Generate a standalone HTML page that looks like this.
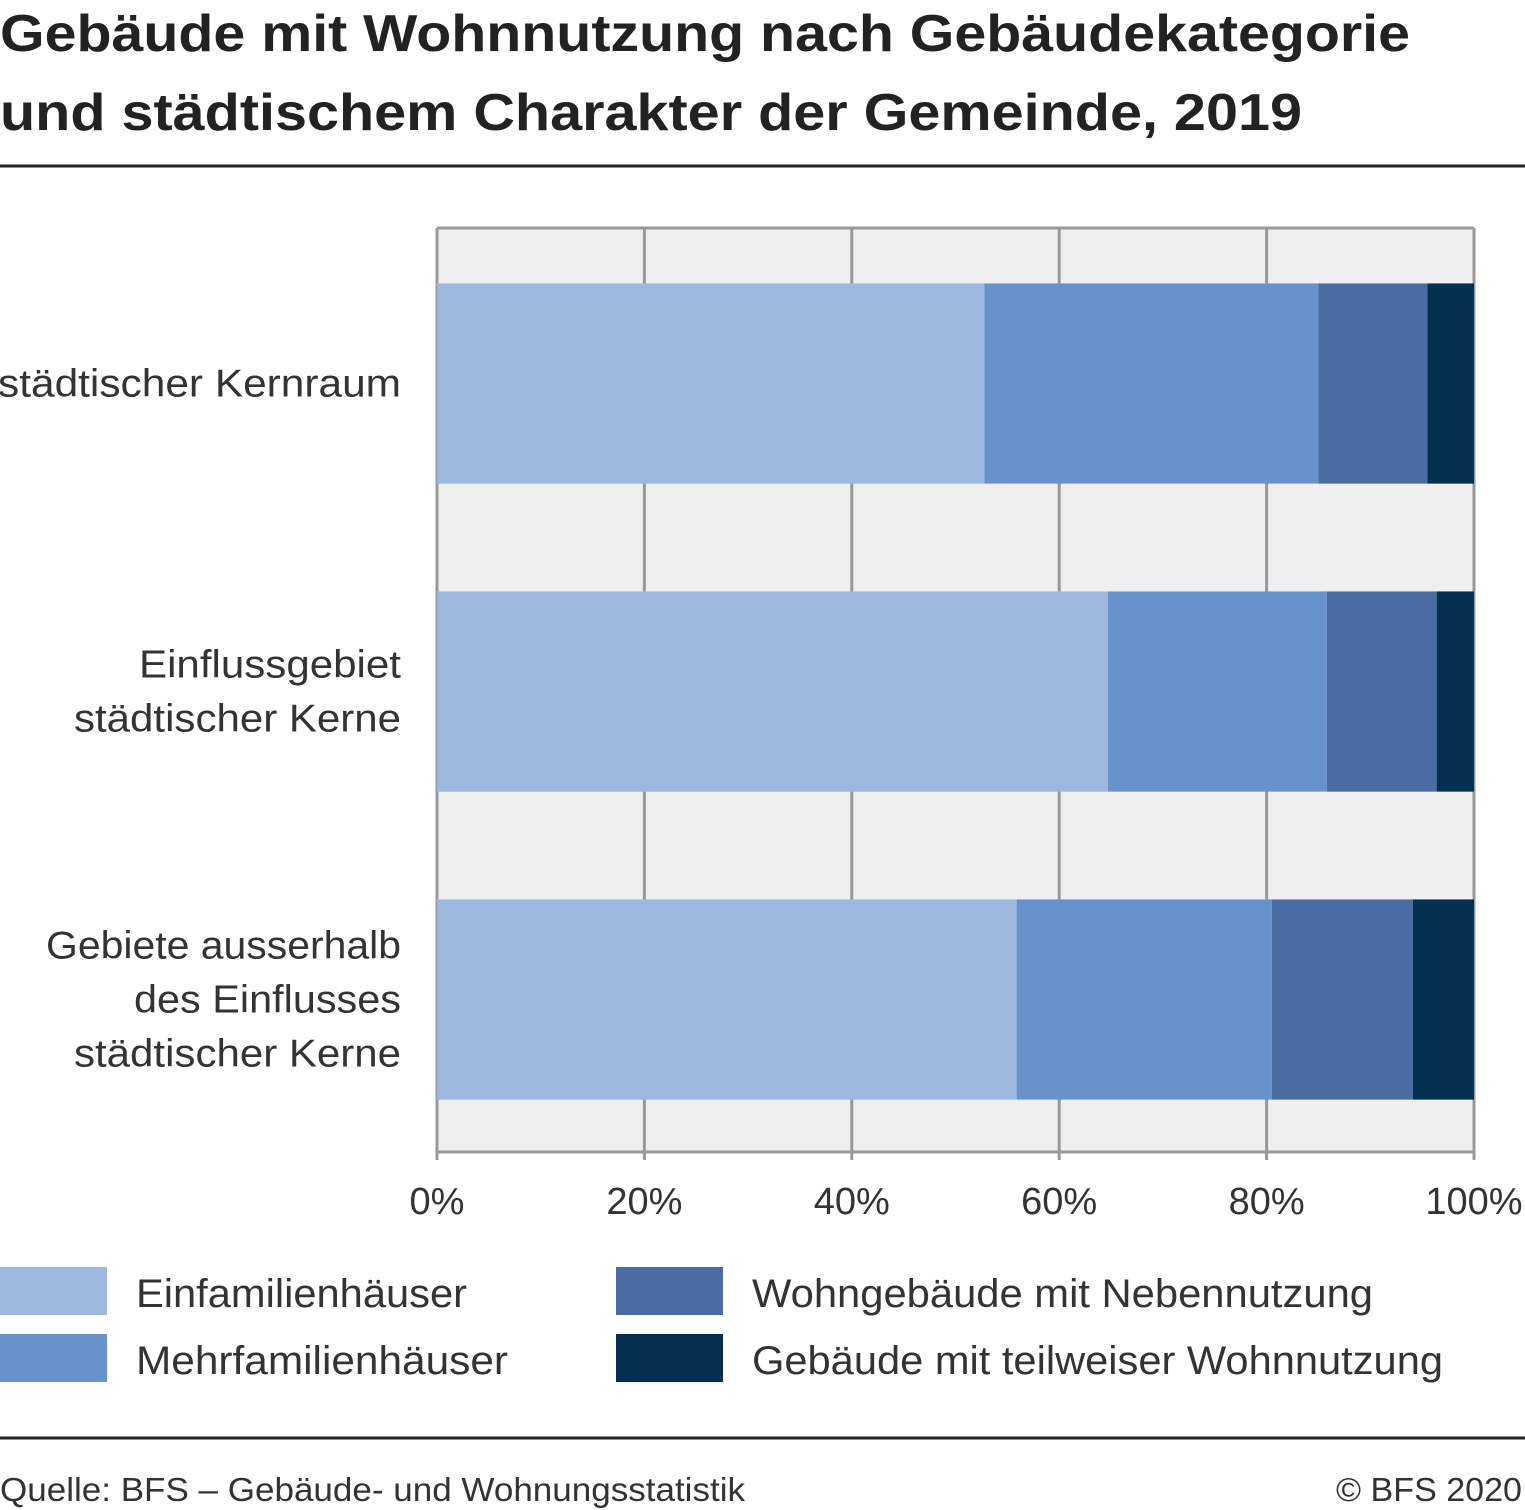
<!DOCTYPE html>
<html><head><meta charset="utf-8"><style>
body{margin:0;background:#fff;width:1525px;height:1510px;overflow:hidden;font-family:"Liberation Sans",sans-serif;}
svg{display:block}
</style></head><body>
<svg width="1525" height="1510" id="svg">
<text x="0" y="51" font-size="52" font-weight="bold" fill="#222" textLength="1410" lengthAdjust="spacingAndGlyphs">Gebäude mit Wohnnutzung nach Gebäudekategorie</text>
<text x="0" y="130" font-size="52" font-weight="bold" fill="#222" textLength="1302" lengthAdjust="spacingAndGlyphs">und städtischem Charakter der Gemeinde, 2019</text>
<line x1="0" x2="1525" y1="166" y2="166" stroke="#222" stroke-width="3"/>
<rect x="437" y="228" width="1037" height="924" fill="#efefef"/>
<g id="grid"></g>
<g id="bars"></g>
<g id="ylabels"></g>
<g id="xticks"></g>
<g id="legend"></g>
<line x1="0" x2="1525" y1="1438" y2="1438" stroke="#222" stroke-width="3"/>
<text x="0" y="1501" font-size="33" fill="#333" textLength="745" lengthAdjust="spacingAndGlyphs">Quelle: BFS – Gebäude- und Wohnungsstatistik</text>
<text x="1522" y="1501" font-size="33" fill="#333" text-anchor="end" textLength="186" lengthAdjust="spacingAndGlyphs">© BFS 2020</text>
</svg>
<script>
const categories=[["städtischer Kernraum"],["Einflussgebiet","städtischer Kerne"],["Gebiete ausserhalb","des Einflusses","städtischer Kerne"]];
const seriesNames=["Einfamilienhäuser","Mehrfamilienhäuser","Wohngebäude mit Nebennutzung","Gebäude mit teilweiser Wohnnutzung"];
const einfam=[52.8,64.7,55.9];
const mehrfam=[32.2,21.1,24.6];
const neben=[10.5,10.6,13.6];
const teil=[4.5,3.6,5.9];
const xTicks=[0,20,40,60,80,100];
const colors=["#9db8e0","#6892cb","#4a6ca3","#03304f"];
const labelWidths={"städtischer Kernraum":403,"Einflussgebiet":262,"städtischer Kerne":327,"Gebiete ausserhalb":355,"des Einflusses":267};
const legendWidths=[331,372,621,691];
const NS="http://www.w3.org/2000/svg";
const X0=437,X1=1474,Y0=228,Y1=1152;
const xs=v=>X0+(X1-X0)*v/100;
const band=(Y1-Y0)/categories.length;
const ys=i=>Y0+band*i+band*0.18;
const bh=band*0.65;
function mk(t,a,p){const e=document.createElementNS(NS,t);for(const k in a)e.setAttribute(k,a[k]);document.getElementById(p).appendChild(e);return e;}
xTicks.forEach((t,i)=>{
 const g=mk("line",{x1:xs(t),x2:xs(t),y1:Y0,y2:Y1+8,stroke:"#999","stroke-width":3},"grid");
 
 
 const tx=mk("text",{x:xs(t),y:1214,"font-size":38,fill:"#333","text-anchor":"middle"},"xticks");
 tx.textContent=t+"%";
 
 
});
mk("line",{x1:X0,x2:X1,y1:Y0,y2:Y0,stroke:"#999","stroke-width":3},"grid");
mk("line",{x1:X0,x2:X1,y1:Y1,y2:Y1,stroke:"#999","stroke-width":3},"grid");
const series=[einfam,mehrfam,neben,teil];
categories.forEach((c,i)=>{
 let acc=0;
 series.forEach((s,j)=>{
  const r=mk("rect",{x:xs(acc),y:ys(i),width:xs(acc+s[i])-xs(acc),height:bh,fill:colors[j]},"bars");
  
  
  acc+=s[i];
 });
 const cy=ys(i)+bh/2;
 c.forEach((line,k)=>{
  const t=mk("text",{x:401,y:cy+13+(k-(c.length-1)/2)*54,"font-size":39,fill:"#333","text-anchor":"end",textLength:labelWidths[line],lengthAdjust:"spacingAndGlyphs"},"ylabels");
  t.textContent=line;
  
  
 });
});
seriesNames.forEach((n,j)=>{
 const lx=j<2?0:616, ly=j%2?1334:1267;
 const r=mk("rect",{x:lx,y:ly,width:107,height:48,fill:colors[j]},"legend");
 
 
 const t=mk("text",{x:lx+136,y:ly+40,"font-size":40,fill:"#333",textLength:legendWidths[j],lengthAdjust:"spacingAndGlyphs"},"legend");
 t.textContent=n;
 
 
});
</script>
</body></html>
